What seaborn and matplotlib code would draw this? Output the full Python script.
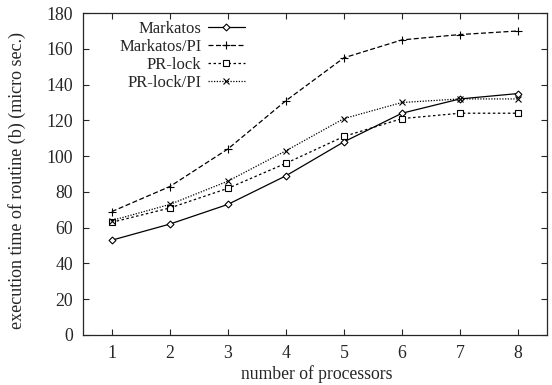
import matplotlib
matplotlib.use("Agg")
import matplotlib.pyplot as plt
import seaborn as sns
import pandas as pd

processors = [1, 2, 3, 4, 5, 6, 7, 8]
markatos = [53, 62, 73, 89, 108, 124, 132, 135]
markatos_pi = [69, 83, 104, 131, 155, 165, 168, 170]
pr_lock = [63, 71, 82, 96, 111, 121, 124, 124]
pr_lock_pi = [64, 73, 86, 103, 121, 130, 132, 132]
series_names = ["Markatos", "Markatos/PI", "PR-lock", "PR-lock/PI"]
x_ticks = [1, 2, 3, 4, 5, 6, 7, 8]
y_ticks = [0, 20, 40, 60, 80, 100, 120, 140, 160, 180]

sns.set_style("ticks")
plt.rcParams["font.family"] = ["Liberation Serif", "DejaVu Serif"]
plt.rcParams["xtick.direction"] = "in"
plt.rcParams["ytick.direction"] = "in"

fig = plt.figure(figsize=(5.52, 3.85), dpi=100)
ax = fig.add_axes([0.150, 0.130, 0.841, 0.836])

styles = {
    "Markatos": dict(marker="D", markersize=3.5, linestyle="-", mfc="white"),
    "Markatos/PI": dict(marker="+", markersize=6, linestyle=(0, (4, 2)), mfc="none"),
    "PR-lock": dict(marker="s", markersize=4.5, linestyle=(0, (2, 2)), mfc="white"),
    "PR-lock/PI": dict(marker="x", markersize=4.5, linestyle=(0, (1, 1.2)), mfc="none"),
}

for name, vals in zip(series_names, [markatos, markatos_pi, pr_lock, pr_lock_pi]):
    df = pd.DataFrame({"processors": processors, "time": vals})
    st = styles[name]
    sns.lineplot(data=df, x="processors", y="time", ax=ax, color="black",
                 linewidth=0.9, marker=st["marker"], markersize=st["markersize"],
                 linestyle=st["linestyle"], markerfacecolor=st["mfc"],
                 markeredgecolor="black", markeredgewidth=0.8, label=name)

ax.set_xlim(0.5, 8.5)
ax.set_ylim(0, 180)
ax.set_xticks(x_ticks)
ax.set_yticks(y_ticks)
ax.tick_params(axis="both", which="both", top=True, right=True, labelsize=12.8, length=4, width=0.8)
ax.tick_params(axis="x", pad=7)
ax.tick_params(axis="y", pad=7)
for s in ax.spines.values():
    s.set_linewidth(0.9)
ax.set_xlabel("number of processors", fontsize=12.7, labelpad=0)
ax.set_ylabel("execution time of routine (b) (micro sec.)", fontsize=13, labelpad=8)
ax.yaxis.set_label_coords(-0.122, 0.48)
ax.xaxis.set_label_coords(0.505, -0.094)

handles, labels = ax.get_legend_handles_labels()
leg = ax.legend(handles, labels, loc="upper right", bbox_to_anchor=(0.349, 0.975),
                frameon=False, markerfirst=False, fontsize=12, handlelength=2.2,
                labelspacing=0.12, handletextpad=0.4, borderaxespad=0, borderpad=0)

fig.savefig("out.png", dpi=100)
